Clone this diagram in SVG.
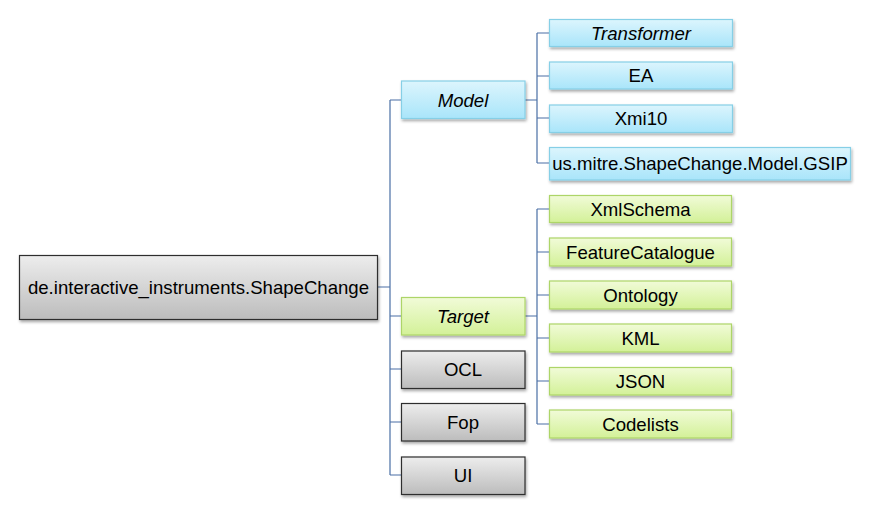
<svg xmlns="http://www.w3.org/2000/svg" width="873" height="515" viewBox="0 0 873 515">
<defs>
<linearGradient id="gGray" x1="0" y1="0" x2="0" y2="1"><stop offset="0" stop-color="#ededed"/><stop offset="1" stop-color="#bcbcbc"/></linearGradient>
<linearGradient id="gBlue" x1="0" y1="0" x2="0" y2="1"><stop offset="0" stop-color="#dcf5fd"/><stop offset="1" stop-color="#a9e5fa"/></linearGradient>
<linearGradient id="gGreen" x1="0" y1="0" x2="0" y2="1"><stop offset="0" stop-color="#f1fbd8"/><stop offset="1" stop-color="#d3f198"/></linearGradient>
<filter id="sh" x="-10%" y="-20%" width="120%" height="150%"><feDropShadow dx="1" dy="2" stdDeviation="1.5" flood-color="#000" flood-opacity="0.35"/></filter>
</defs>
<style>
.gray{fill:url(#gGray);stroke:#2e2e2e;stroke-width:1.2;filter:url(#sh)}
.blue{fill:url(#gBlue);stroke:#86cfe6;stroke-width:1.2;filter:url(#sh)}
.green{fill:url(#gGreen);stroke:#add568;stroke-width:1.2;filter:url(#sh)}
text{font-family:"Liberation Sans",Arial,sans-serif;font-size:18.6px;fill:#000;text-anchor:middle}
.it{font-style:italic}
.c{fill:none;stroke:#4a6fa5;stroke-width:1.2}
</style>
<g id="connectors">
<path class="c" d="M378 287H390M390 100V475M390 100H402M390 316H402M390 369H402M390 422H402M390 475H402"/>
<path class="c" d="M525 100H537M537 33V163M537 33H549M537 76H549M537 118H549M537 163H549"/>
<path class="c" d="M525 316H537M537 209V424M537 209H549M537 252H549M537 295H549M537 338H549M537 381H549M537 424H549"/>
</g>
<g id="root"><rect class="gray" x="19.5" y="255.5" width="358" height="64"/><text x="198.5" y="294">de.interactive_instruments.ShapeChange</text></g>
<g id="model"><rect class="blue" x="401.5" y="81" width="123.5" height="37.5"/><text class="it" x="463" y="106.5">Model</text></g>
<g id="target"><rect class="green" x="401.5" y="297.5" width="123.5" height="37.5"/><text class="it" x="463" y="322.5">Target</text></g>
<g id="ocl"><rect class="gray" x="401.5" y="351" width="123.5" height="37.5"/><text x="463" y="376">OCL</text></g>
<g id="fop"><rect class="gray" x="401.5" y="403.5" width="123.5" height="37.5"/><text x="463" y="428.5">Fop</text></g>
<g id="ui"><rect class="gray" x="401.5" y="457" width="123.5" height="37.5"/><text x="463" y="482">UI</text></g>
<g id="transformer"><rect class="blue" x="549.5" y="19.5" width="183" height="27"/><text class="it" x="641" y="39.5">Transformer</text></g>
<g id="ea"><rect class="blue" x="549.5" y="62" width="183" height="27"/><text x="641" y="82">EA</text></g>
<g id="xmi10"><rect class="blue" x="549.5" y="105" width="183" height="27.5"/><text x="641" y="125">Xmi10</text></g>
<g id="gsip"><rect class="blue" x="549.5" y="147.5" width="301" height="32.5"/><text x="700" y="170">us.mitre.ShapeChange.Model.GSIP</text></g>
<g id="xmlschema"><rect class="green" x="549.5" y="195.5" width="182" height="27"/><text x="640.5" y="215.5">XmlSchema</text></g>
<g id="featurecatalogue"><rect class="green" x="549.5" y="238" width="182" height="28"/><text x="640.5" y="258.5">FeatureCatalogue</text></g>
<g id="ontology"><rect class="green" x="549.5" y="281" width="182" height="28"/><text x="640.5" y="301.5">Ontology</text></g>
<g id="kml"><rect class="green" x="549.5" y="324" width="182" height="28"/><text x="640.5" y="344.5">KML</text></g>
<g id="json"><rect class="green" x="549.5" y="367.5" width="182" height="27.5"/><text x="640.5" y="387.5">JSON</text></g>
<g id="codelists"><rect class="green" x="549.5" y="410" width="182" height="28"/><text x="640.5" y="430.5">Codelists</text></g>
</svg>
